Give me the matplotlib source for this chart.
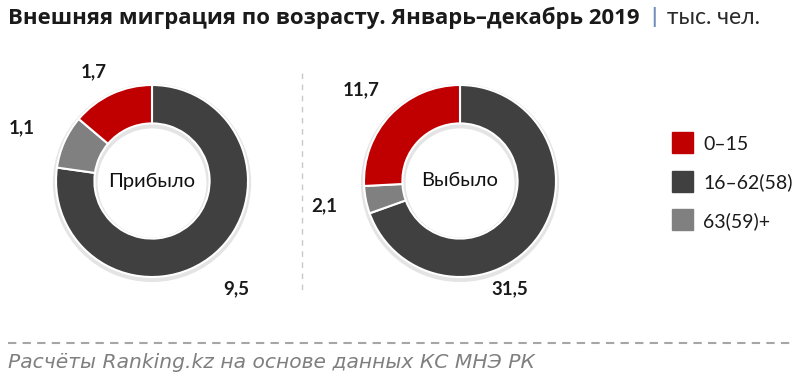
import matplotlib
matplotlib.use("Agg")
import matplotlib.pyplot as plt
from matplotlib.patches import Wedge
import numpy as np

# --- data ---
categories = ["0–15", "16–62(58)", "63(59)+"]
arrived = [1.7, 9.5, 1.1]     # Прибыло
departed = [11.7, 31.5, 2.1]  # Выбыло
chart_names = ["Прибыло", "Выбыло"]

title = "Внешняя миграция по возрасту. Январь–декабрь 2019"
units = "тыс. чел."
source = "Расчёты Ranking.kz на основе данных КС МНЭ РК"

colors = {"0–15": "#C00000", "16–62(58)": "#404040", "63(59)+": "#808080"}
draw_order = ["16–62(58)", "63(59)+", "0–15"]  # clockwise from 12 o'clock

W, H = 800, 383
plt.rcParams["font.family"] = ["Lato", "DejaVu Sans"]

fig = plt.figure(figsize=(W / 100, H / 100), dpi=100)
fig.patch.set_facecolor("white")
renderer = fig.canvas.get_renderer()


def px(x, y):
    return x / W, 1 - y / H


def fit_width(t, target):
    # scale the font so the text spans roughly `target` pixels
    w = t.get_window_extent(renderer).width
    t.set_fontsize(t.get_fontsize() * target / w)


def fmt(v):
    return f"{v:.1f}".replace(".", ",")


def donut(center, values, name, label_shift):
    cx, cy = center
    r = 100
    size = 2.4 * r
    ax = fig.add_axes([(cx - size / 2) / W, 1 - (cy + size / 2) / H, size / W, size / H])
    ax.set_xlim(-1.2, 1.2)
    ax.set_ylim(-1.2, 1.2)
    ax.set_aspect("equal")
    ax.axis("off")
    vals = [values[categories.index(c)] for c in draw_order]
    cols = [colors[c] for c in draw_order]
    # soft outer shadow ring
    ax.add_patch(Wedge((0.0, -0.02), 1.025, 0, 360, width=0.45, color="#e4e4e4", zorder=0))
    wedges, _ = ax.pie(vals, colors=cols, startangle=90, counterclock=False, radius=1.0,
                       wedgeprops=dict(width=0.4, edgecolor="white", linewidth=1.5))
    for w, v, (da, rr) in zip(wedges, vals, label_shift):
        ang = np.deg2rad((w.theta1 + w.theta2) / 2 + da)
        ax.text(rr * np.cos(ang), rr * np.sin(ang), fmt(v), ha="center", va="center",
                fontsize=13.5, fontweight="bold", color="#1a1a1a")
    ax.text(0, 0, name, ha="center", va="center", fontsize=14.5, color="#111111")


# label tweaks: (angle offset deg, radius) for dark, gray, red
donut((152, 181), arrived, chart_names[0], [(-3, 1.42), (2, 1.46), (3, 1.29)])
donut((460, 181), departed, chart_names[1], [(-30, 1.24), (-1, 1.44), (1, 1.40)])

# title
t = fig.text(*px(8, 18), title, fontsize=14, fontweight="bold", color="#1a1a1a",
             ha="left", va="center", family=["Open Sans", "DejaVu Sans"])
fit_width(t, 634)
fig.text(*px(654, 17), "|", fontsize=15, fontweight="bold", color="#6d8fb8",
         ha="center", va="center")
u = fig.text(*px(667, 18), units, fontsize=12, color="#2a2a2a", ha="left", va="center")
fit_width(u, 93)

# separators
fig.add_artist(plt.Line2D([302 / W, 302 / W], [1 - 73 / H, 1 - 290 / H], color="#c8c8c8",
                          lw=1, ls=(0, (4, 4))))
fig.add_artist(plt.Line2D([8 / W, 793 / W], [1 - 343 / H, 1 - 343 / H], color="#a6a6a6",
                          lw=1.5, ls=(0, (4, 3))))

# legend
for i, c in enumerate(categories):
    y = 143 + i * 38.5
    fig.add_artist(plt.Rectangle(px(672, y + 10.5), 21 / W, 21 / H, color=colors[c]))
    fig.text(*px(703, y + 1), c, fontsize=14, color="#1a1a1a", ha="left", va="center")

# source
s = fig.text(*px(8, 363), source, fontsize=12, style="italic", color="#7f7f7f",
             ha="left", va="center", family=["DejaVu Sans"])
fit_width(s, 524)

fig.savefig("out.png", dpi=100, facecolor="white")
